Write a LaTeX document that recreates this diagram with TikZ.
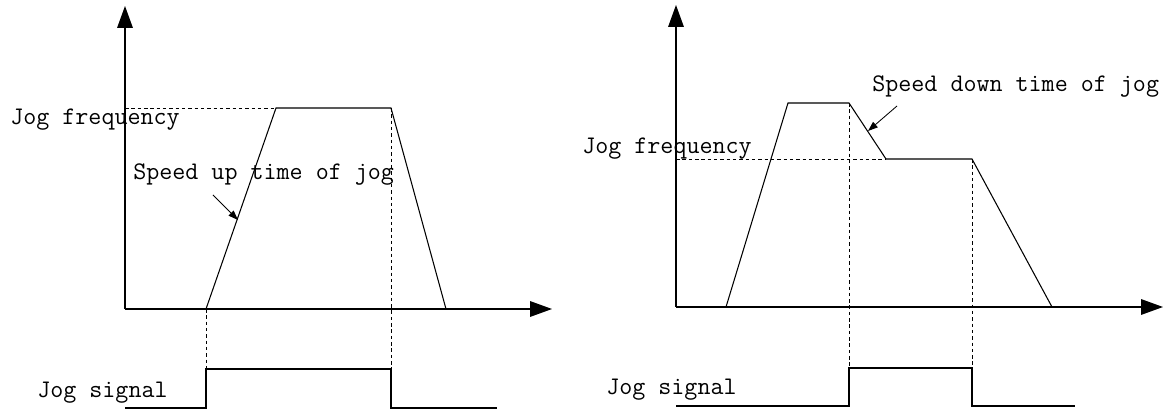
\documentclass[tikz,border=0pt]{standalone}
\usepackage{fontspec}
\usetikzlibrary{arrows.meta}

\begin{document}
\begin{tikzpicture}[
    x=0.025cm, y=-0.025cm,
    axis/.style={line width=0.9pt, -{Triangle[length=15.5pt, width=11pt]}},
    curve/.style={line width=0.75pt},
    guide/.style={line width=0.6pt, dash pattern=on 2.5pt off 2pt},
    pointer/.style={line width=0.6pt, -{Triangle[length=7pt, width=5pt]}},
    jogtext/.style={font={\ttfamily\fontsize{18}{22}\selectfont}, inner sep=0pt, anchor=base west}
]
\useasboundingbox (0,0) rectangle (1173,412);

% Left chart: speed up time of jog
\coordinate (l_org) at (125,309);
\coordinate (l_start) at (206,309);
\coordinate (l_top1) at (276,108);
\coordinate (l_top2) at (391,108);
\coordinate (l_end) at (446,309);

\draw[axis] (l_org) -- (125,6);
\draw[axis] (l_org) -- (552,309);
\draw[curve] (l_start) -- (l_top1) -- (l_top2) -- (l_end);

\draw[guide] (125,108) -- (l_top1);
\draw[guide] (l_start) -- (206,369);
\draw[guide] (l_top2) -- (391,369);

\draw[curve] (125,408) -- (206,408) -- (206,369) -- (391,369) -- (391,408) -- (497,408);

\node[jogtext] (l_freq) at (10,125) {Jog frequency};
\node[jogtext] (l_up) at (133,180) {Speed up time of jog};
\node[jogtext] (l_sig) at (37,398) {Jog signal};
\coordinate (l_ptr) at (238,220);
\draw[pointer] (213,195) -- (l_ptr);

% Right chart: speed down time of jog
\coordinate (r_org) at (676,307);
\coordinate (r_start) at (726,307);
\coordinate (r_top1) at (788,103);
\coordinate (r_top2) at (849,103);
\coordinate (r_mid1) at (886,159);
\coordinate (r_mid2) at (972,159);
\coordinate (r_end) at (1052,307);

\draw[axis] (r_org) -- (676,5);
\draw[axis] (r_org) -- (1163,307);
\draw[curve] (r_start) -- (r_top1) -- (r_top2) -- (r_mid1) -- (r_mid2) -- (r_end);

\draw[guide] (676,159) -- (r_mid1);
\draw[guide] (r_top2) -- (849,368);
\draw[guide] (r_mid2) -- (972,368);

\draw[curve] (676,406) -- (849,406) -- (849,368) -- (972,368) -- (972,406) -- (1075,406);

\node[jogtext] (r_freq) at (582,154) {Jog frequency};
\node[jogtext] (r_down) at (872,92) {Speed down time of jog};
\node[jogtext] (r_sig) at (606,395) {Jog signal};
\coordinate (r_ptr) at (868,131);
\draw[pointer] (897,106) -- (r_ptr);

\end{tikzpicture}
\end{document}
